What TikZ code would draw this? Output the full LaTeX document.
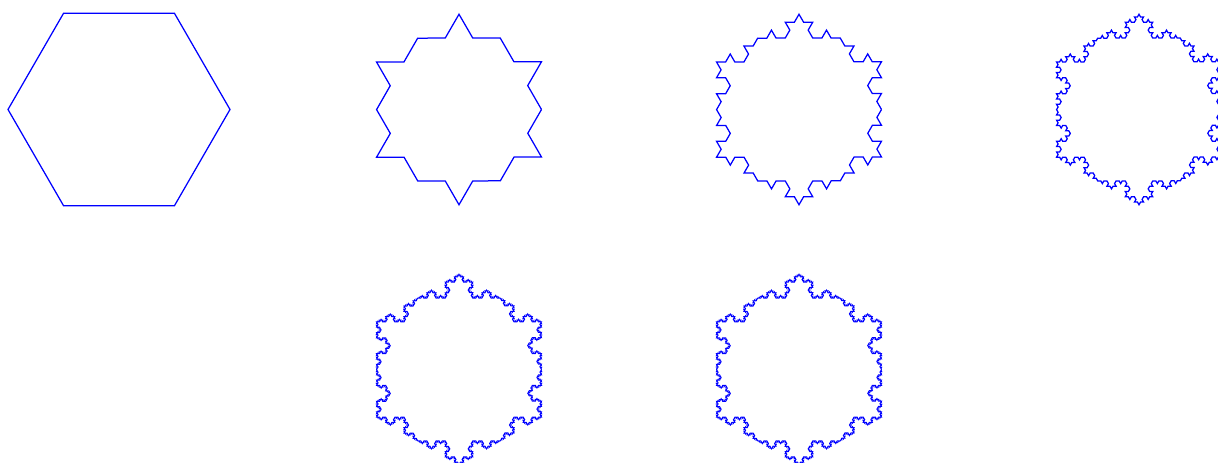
\documentclass[tikz,border=0pt]{standalone}
\usetikzlibrary{decorations.fractals}
\tikzset{
  koch/.style={draw=blue, line width=1.25pt, line join=miter, decoration=Koch snowflake},
  kochfine/.style={koch, line width=1pt},
}
\newcommand\hexpath[1]{(#1:82.5) -- (#1-60:82.5) -- (#1-120:82.5) -- (#1-180:82.5) -- (#1-240:82.5) -- (#1-300:82.5) -- (#1-360:82.5)}
\begin{document}
\begin{tikzpicture}[x=1pt,y=1pt]
\clip (0,0) rectangle (1218,463);
\fill[white] (0,0) rectangle (1218,463);
% level 0
\draw[blue, line width=1.25pt, line join=miter, shift={(119,353.5)}]
  (0:111) -- (-60:111) -- (-120:111) -- (-180:111) -- (-240:111) -- (-300:111) -- cycle;
% level 1
\begin{scope}[shift={(459,353.5)}]
\draw[koch] decorate{ \hexpath{0} };
\end{scope}
% level 2
\begin{scope}[shift={(799,353.5)}]
\draw[koch] decorate{ decorate{ \hexpath{0} } };
\end{scope}
% level 3
\begin{scope}[shift={(1139,353.5)}]
\draw[koch] decorate{ decorate{ decorate{ \hexpath{0} } } };
\end{scope}
% level 4
\begin{scope}[shift={(459,93.5)}]
\draw[kochfine] decorate{ decorate{ decorate{ decorate{ \hexpath{0} } } } };
\end{scope}
% level 4 (second copy)
\begin{scope}[shift={(799,93.5)}]
\draw[kochfine] decorate{ decorate{ decorate{ decorate{ \hexpath{0} } } } };
\end{scope}
\end{tikzpicture}
\end{document}
